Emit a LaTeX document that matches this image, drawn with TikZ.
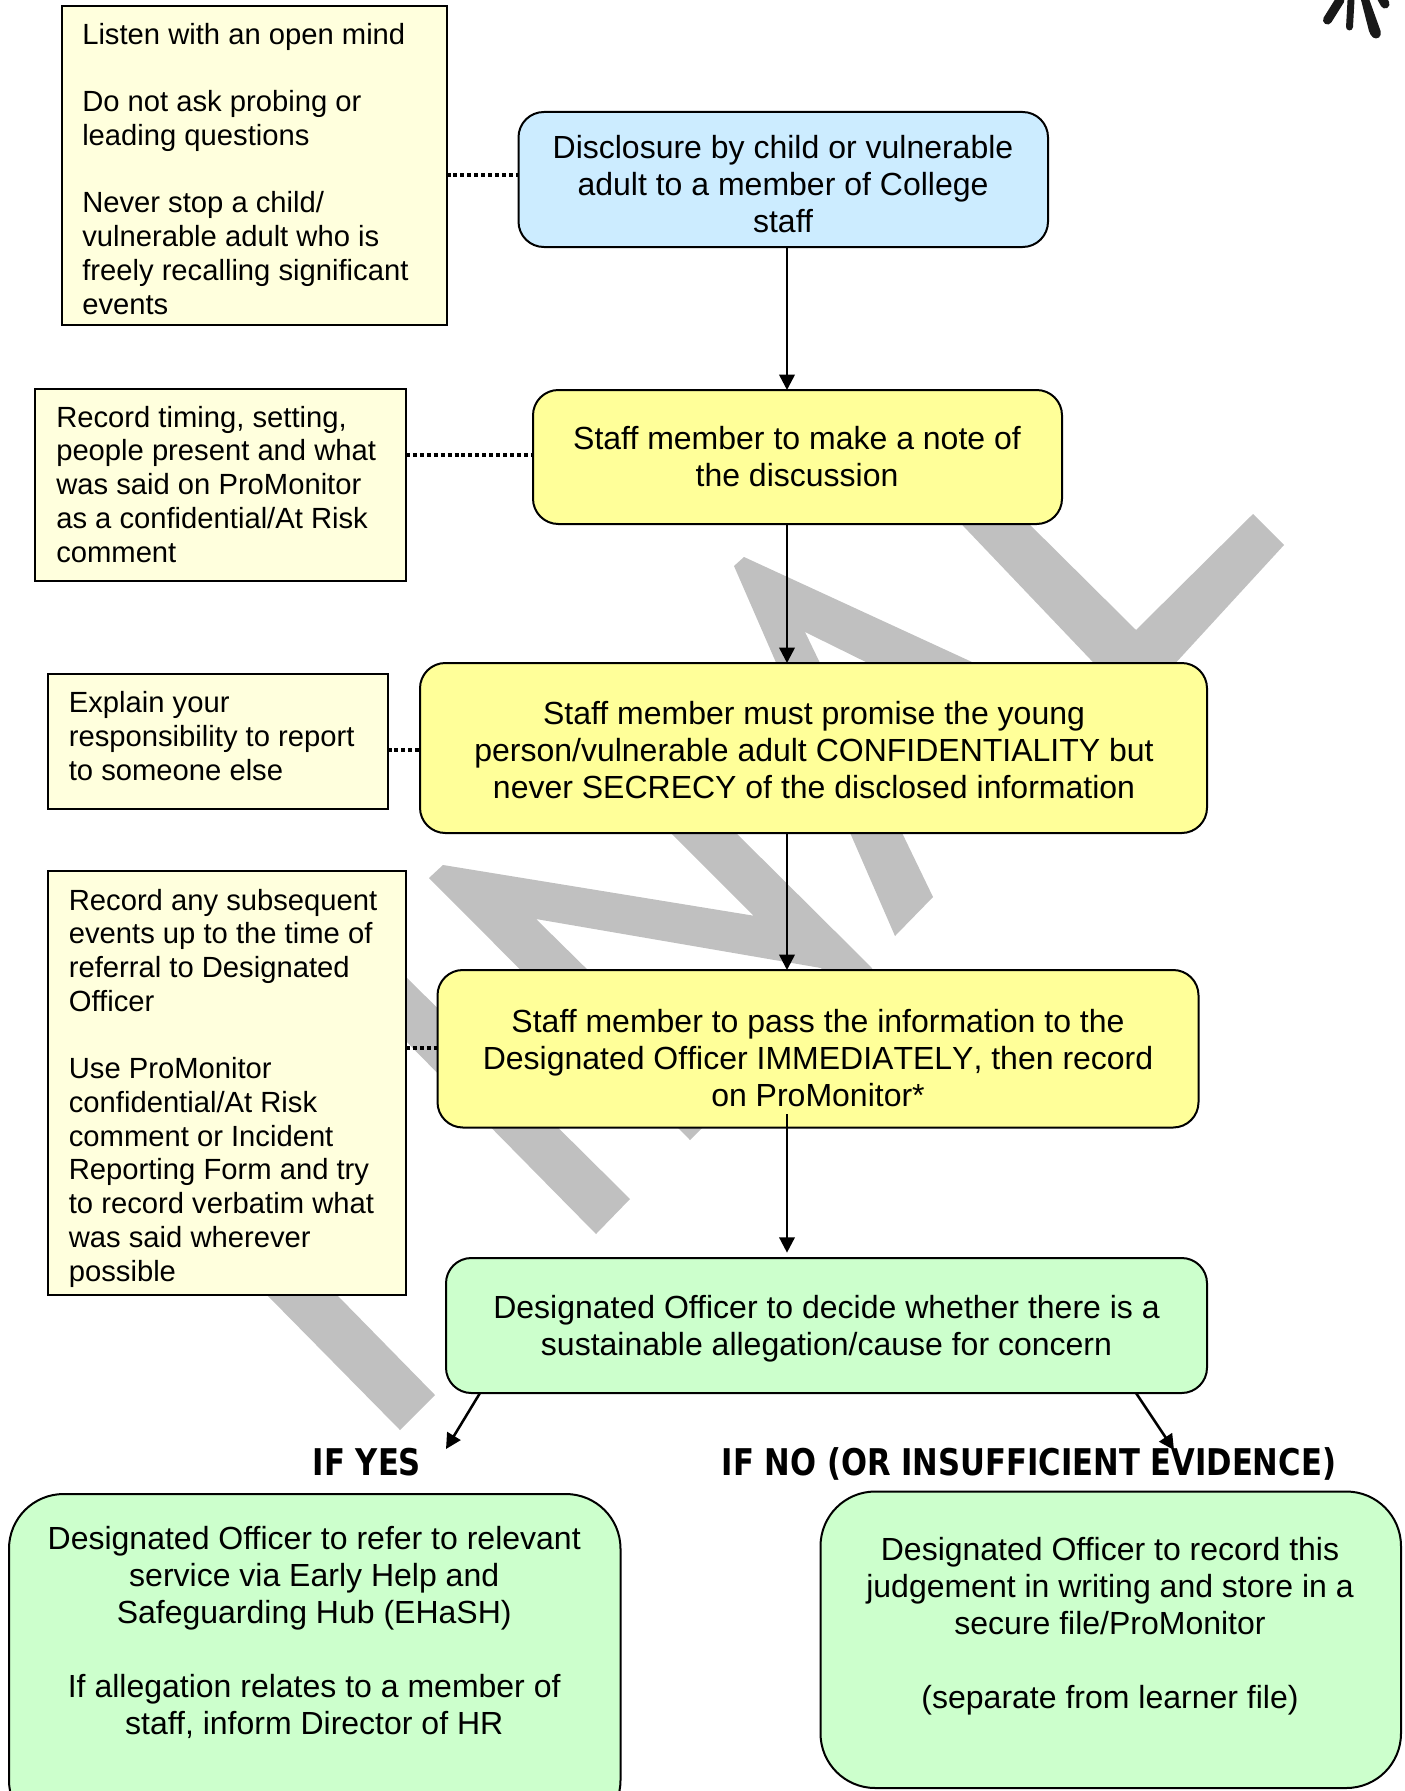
\documentclass[tikz,border=0pt]{standalone}
\usepackage{fontspec}
\usetikzlibrary{arrows.meta}
\setmainfont{Liberation Sans}
\newfontfamily\headfont[FakeStretch=0.925]{DejaVu Sans Condensed}
\definecolor{cblue}{HTML}{CCECFF}
\definecolor{cyel}{HTML}{FFFF99}
\definecolor{cgreen}{HTML}{CCFFCC}
\definecolor{cnote}{HTML}{FFFFDD}
\definecolor{cwm}{HTML}{C0C0C0}
\newcommand\mybox[6]{%
  \pgfmathsetmacro\myw{(#5-#3)*.75}\pgfmathsetmacro\myh{(#6-#4)*.75}%
  \node[#2,minimum width=\myw pt,minimum height=\myh pt] (#1) at ({(#3+#5)/2},{(#4+#6)/2}) {};}
\tikzset{
  x=.75pt,y=-.75pt,
  basebox/.style={draw=black,line width=1.5pt,inner sep=0pt,outer sep=0pt,rectangle},
  notebox/.style={basebox,fill=cnote},
  bluebox/.style={basebox,fill=cblue,rounded corners=19pt},
  yelbox/.style={basebox,fill=cyel,rounded corners=19pt},
  grnbox/.style={basebox,fill=cgreen,rounded corners=19pt},
  bigbox/.style={basebox,fill=cgreen,rounded corners=41pt},
  maintxt/.style={anchor=north,align=center,inner sep=0pt,font=\fontsize{24}{27.75}\selectfont},
  notetxt/.style={anchor=north west,align=left,inner sep=0pt,font=\fontsize{21.9}{25.3}\selectfont},
  headtxt/.style={anchor=base,inner sep=0pt,font=\headfont\bfseries\fontsize{27.6}{30}\selectfont},
  arr/.style={draw=black,line width=1.9pt,-{Triangle[length=11.5pt,width=11.5pt]}},
  dotline/.style={draw=black,line width=3pt,dash pattern=on 3pt off 2.2pt},
  wm/.style={fill=cwm,draw=none},
  logo/.style={draw=black!90,line cap=round},
}
\begin{document}
\begin{tikzpicture}
\useasboundingbox[fill=white] (0,0) rectangle (1405,1791);
% watermark
\fill[wm] (948,510)--(1015,510)--(1136,630)--(1253,514)--(1284,545)--(1160,680)--(1110,680)--cycle;
\fill[wm] (734,566)--(744,557)--(985,668)--(878,668)--(805,632)--(933,897)--(895,936)--cycle;
\fill[wm] (443,865)--(753.6,915.7)--(660,822)--(725,822)--(871,967)--(880,980)--(830,980)--(821,968)--(536,919)--(725,1105)--(690,1140)--(429,878)--cycle;
\fill[wm] (395,966)--(630,1199)--(596,1234)--(395,1030)--cycle;
\fill[wm] (257,1285)--(327,1285)--(337,1295)--(435,1395)--(400,1430)--(267,1295)--cycle;
% logo
\draw[logo,line width=6.8pt] (1327.5,20)--(1340,0);
\draw[logo,line width=5.2pt] (1349.5,27)--(1351,0);
\fill[black!90,rounded corners=3pt] (1370,35)--(1376,40)--(1382,35)--(1368,-4)--(1360,-4)--cycle;
\draw[logo,line width=6.8pt] (1385,4)--(1380,-5);
% boxes
\mybox{nA}{notebox}{61.5}{6}{446.5}{325}
\mybox{nB}{notebox}{35}{388.5}{406}{580.5}
\mybox{nC}{notebox}{48}{674}{387.5}{808.5}
\mybox{nD}{notebox}{48}{871}{406}{1295}
\mybox{bl}{bluebox}{518.5}{112}{1048}{247}
\mybox{yA}{yelbox}{533}{390}{1062}{524}
\mybox{yB}{yelbox}{420}{663}{1207}{833}
\mybox{yC}{yelbox}{437.5}{970}{1198.5}{1127.5}
\mybox{gT}{grnbox}{446}{1258}{1207}{1393}
\mybox{gL}{bigbox}{9}{1494}{620.5}{1835}
\mybox{gR}{bigbox}{820.5}{1491.5}{1401}{1788}
% texts
\node[notetxt] (tA) at (82,22.9) {Listen with an open mind\\[25.3pt]Do not ask probing or\\leading questions\\[25.3pt]Never stop a child/\\vulnerable adult who is\\freely recalling significant\\events};
\node[notetxt] (tB) at (56,405.7) {Record timing, setting,\\people present and what\\was said on ProMonitor\\as a confidential/At Risk\\comment};
\node[notetxt] (tC) at (68.6,691.2) {Explain your\\responsibility to report\\to someone else};
\node[notetxt] (tD) at (68.6,888.6) {Record any subsequent\\events up to the time of\\referral to Designated\\Officer\\[25.3pt]Use ProMonitor\\confidential/At Risk\\comment or Incident\\Reporting Form and try\\to record verbatim what\\was said wherever\\possible};
\node[maintxt] (tbl) at (783,134.6) {Disclosure by child or vulnerable\\adult to a member of College\\staff};
\node[maintxt] (tyA) at (797,425.6) {Staff member to make a note of\\the discussion};
\node[maintxt] (tyB) at (814,701.2) {Staff member must promise the young\\person/vulnerable adult CONFIDENTIALITY but\\never SECRECY of the disclosed information};
\node[maintxt] (tyC) at (818,1008.6) {Staff member to pass the information to the\\{\addfontfeature{Kerning=Off}Designated Officer IMMEDIATELY, then record}\\on ProMonitor*};
\node[maintxt] (tgT) at (826.5,1295.2) {Designated Officer to decide whether there is a\\sustainable allegation/cause for concern};
\node[maintxt] (tgL) at (314.2,1525.8) {Designated Officer to refer to relevant\\service via Early Help and\\Safeguarding Hub (EHaSH)\\[27.75pt]If allegation relates to a member of\\staff, inform Director of HR};
\node[maintxt] (tgR) at (1110,1536.8) {Designated Officer to record this\\judgement in writing and store in a\\secure file/ProMonitor\\[27.75pt](separate from learner file)};
\node[headtxt] (hY) at (367,1475) {IF YES};
\node[headtxt] (hN) at (1029,1475) {IF NO (OR INSUFFICIENT EVIDENCE)};
% connectors
\coordinate (cx) at (787,0);
\coordinate (yCtail) at (787,1114);
\coordinate (yesS) at (480,1393);
\coordinate (yesE) at (446,1449);
\coordinate (noS) at (1136,1393);
\coordinate (noE) at (1174,1450);
\draw[arr] (bl.south -| cx) -- (yA.north -| cx);
\draw[arr] (yA.south -| cx) -- (yB.north -| cx);
\draw[arr] (yB.south -| cx) -- (yC.north -| cx);
\draw[arr,shorten >=4pt] (yCtail) -- (gT.north -| cx);
\draw[arr] (yesS) -- (yesE);
\draw[arr] (noS) -- (noE);
\coordinate (dA) at (0,175);
\coordinate (dB) at (0,455);
\coordinate (dC) at (0,750);
\coordinate (dD) at (0,1048);
\draw[dotline] (nA.east |- dA) -- (bl.west |- dA);
\draw[dotline] (nB.east |- dB) -- (yA.west |- dB);
\draw[dotline] (nC.east |- dC) -- (yB.west |- dC);
\draw[dotline] (nD.east |- dD) -- (yC.west |- dD);
\end{tikzpicture}
\end{document}
